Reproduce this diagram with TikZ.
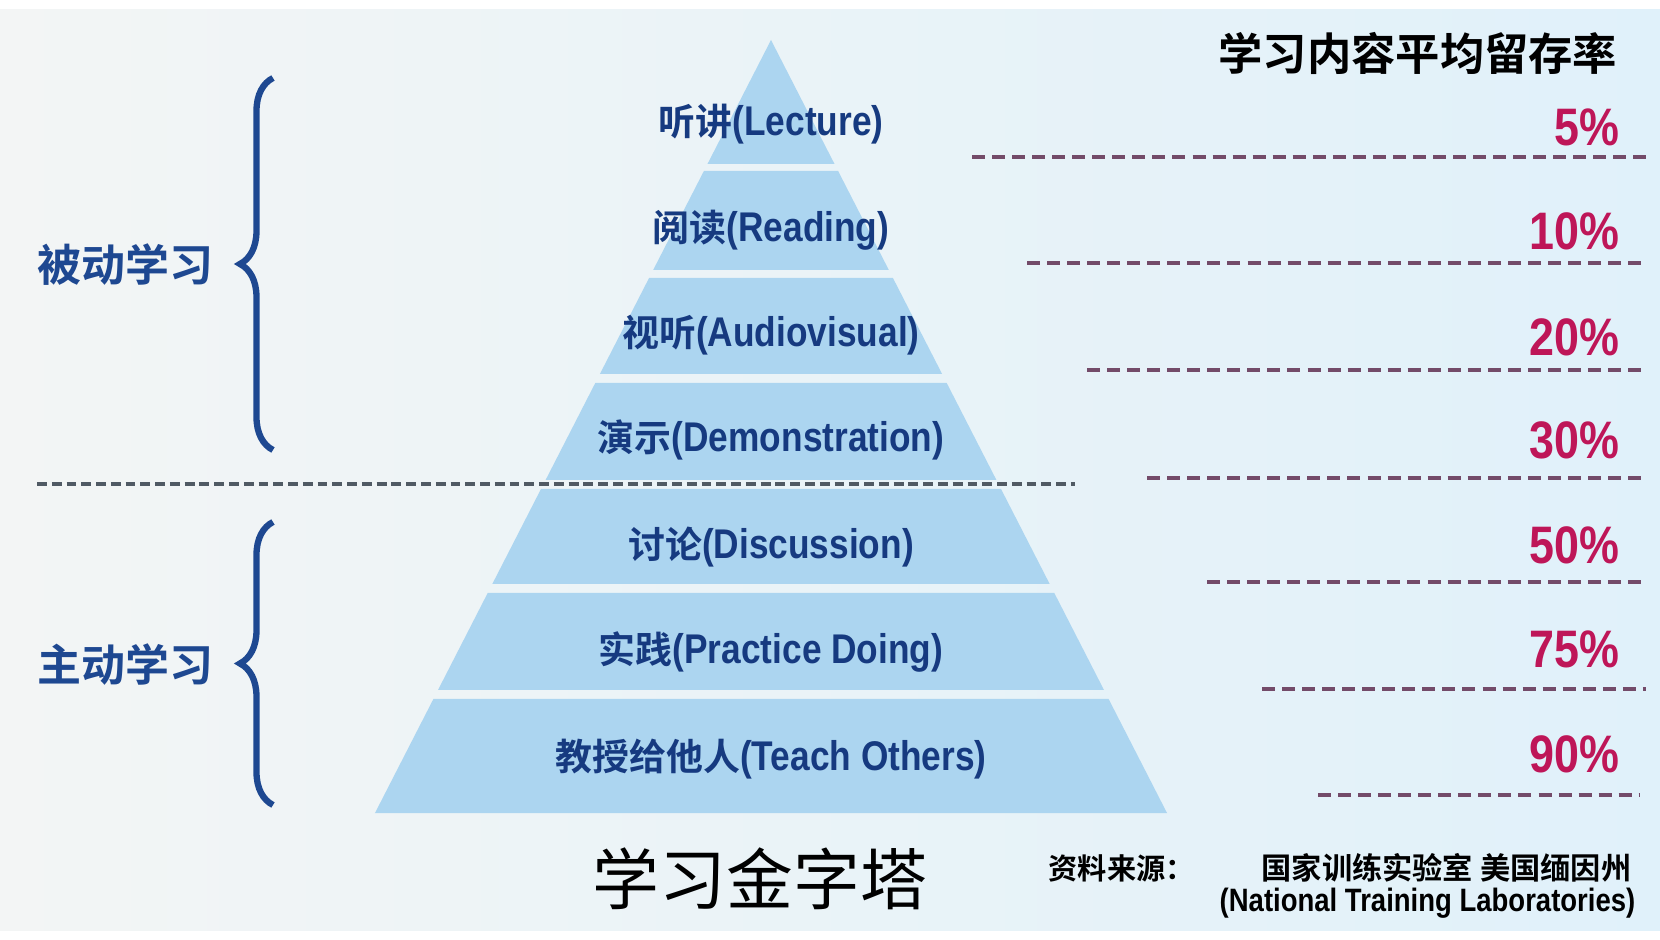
\documentclass[tikz,border=0pt]{standalone}
\usepackage{fontspec}
\setmainfont{Liberation Sans}
\newfontfamily\cjk{Noto Sans CJK SC}
\newfontfamily\cjkb{Noto Sans CJK SC Bold}
\newfontfamily\narrowb{Liberation Sans Bold}[FakeStretch=0.85]
\usepackage{xcolor}
\usepackage{tikz}
\usetikzlibrary{decorations.pathreplacing}

\definecolor{bgleft}{RGB}{243,245,245}
\definecolor{bgright}{RGB}{224,241,250}
\definecolor{pyrfill}{RGB}{172,213,240}
\definecolor{pyrtext}{RGB}{22,58,128}
\definecolor{bracecol}{RGB}{30,72,145}
\definecolor{pctcol}{RGB}{190,22,88}
\definecolor{pinkdash}{RGB}{115,75,105}
\definecolor{graydash}{RGB}{80,90,100}

\newcommand\zhen[2]{{\cjkb #1}{\narrowb\fontsize{11.8}{13}\selectfont(#2)}}

\begin{document}
\begin{tikzpicture}[
    x=0.01cm,
    y=-0.01cm,
    band/.style={
        fill=pyrfill
    },
    bandlabel/.style={
        text=pyrtext,
        inner sep=0pt,
        font=\fontsize{10.5}{12}\selectfont
    },
    pct/.style={
        text=pctcol,
        anchor=east,
        inner sep=0pt,
        font=\narrowb\fontsize{15}{16}\selectfont
    },
    rateline/.style={
        draw=pinkdash,
        line width=1.2pt,
        dash pattern=on 3.7pt off 2pt
    },
    groupbrace/.style={
        draw=bracecol,
        line width=1.8pt,
        decorate,
        decoration={brace,amplitude=0.33cm}
    },
    grouplabel/.style={
        text=bracecol,
        anchor=west,
        inner sep=0pt,
        font=\cjkb\fontsize{12.5}{14}\selectfont
    }
]

\useasboundingbox (0,0) rectangle (1660,940);
\fill[white] (0,0) rectangle (1660,940);
\shade[left color=bgleft,right color=bgright] (0,10) rectangle (1660,930);

% pyramid bands
\foreach \ytop/\ybot in {40/164,171/270,278/374,383/480,489/584,593/690,699/813}{
    \pgfmathsetmacro\wt{(\ytop-40)*0.5123}
    \pgfmathsetmacro\wb{(\ybot-40)*0.5123}
    \fill[band] (771-\wt,\ytop) -- (771+\wt,\ytop) -- (771+\wb,\ybot) -- (771-\wb,\ybot) -- cycle;
}

\node[bandlabel] (lecture) at (771,124) {\zhen{听讲}{Lecture}};
\node[bandlabel] (reading) at (771,230) {\zhen{阅读}{Reading}};
\node[bandlabel] (audiovisual) at (771,335) {\zhen{视听}{Audiovisual}};
\node[bandlabel] (demo) at (771,440) {\zhen{演示}{Demonstration}};
\node[bandlabel] (discussion) at (771,547) {\zhen{讨论}{Discussion}};
\node[bandlabel] (practice) at (771,652) {\zhen{实践}{Practice Doing}};
\node[bandlabel] (teach) at (771,759) {\zhen{教授给他人}{Teach Others}};

% retention rates
\node[anchor=east,inner sep=0pt,font=\cjkb\fontsize{12.6}{14}\selectfont] (ratehead) at (1618,53) {学习内容平均留存率};

\node[pct] (p5) at (1620,127) {5\%};
\node[pct] (p10) at (1620,231) {10\%};
\node[pct] (p20) at (1620,337) {20\%};
\node[pct] (p30) at (1620,440) {30\%};
\node[pct] (p50) at (1620,545) {50\%};
\node[pct] (p75) at (1620,649) {75\%};
\node[pct] (p90) at (1620,754) {90\%};

\draw[rateline] (972,157) -- (1646,157);
\draw[rateline] (1027,263) -- (1646,263);
\draw[rateline] (1087,370) -- (1646,370);
\draw[rateline] (1147,478) -- (1646,478);
\draw[rateline] (1207,582) -- (1646,582);
\draw[rateline] (1262,689) -- (1646,689);
\draw[rateline] (1318,795) -- (1640,795);

% passive / active split
\draw[draw=graydash,line width=1.1pt,dash pattern=on 2.8pt off 1.4pt] (37,484) -- (1075,484);

\draw[groupbrace] (273,450) -- (273,78);
\draw[groupbrace] (273,805) -- (273,522);

\node[grouplabel] (passive) at (37,265) {被动学习};
\node[grouplabel] (active) at (37,665) {主动学习};

% title and source
\node[inner sep=0pt,font=\cjk\fontsize{19}{21}\selectfont] (title) at (760,879) {学习金字塔};

\node[anchor=west,inner sep=0pt,font=\cjkb\fontsize{8.3}{9}\selectfont] (srclabel) at (1048,868) {资料来源：};
\node[anchor=east,inner sep=0pt,font=\cjkb\fontsize{8.6}{9}\selectfont] (srcname) at (1632,868) {国家训练实验室\ 美国缅因州};
\node[anchor=east,inner sep=0pt,font=\narrowb\fontsize{9.2}{10}\selectfont] (srcen) at (1636,903) {(National Training Laboratories)};

\end{tikzpicture}
\end{document}
